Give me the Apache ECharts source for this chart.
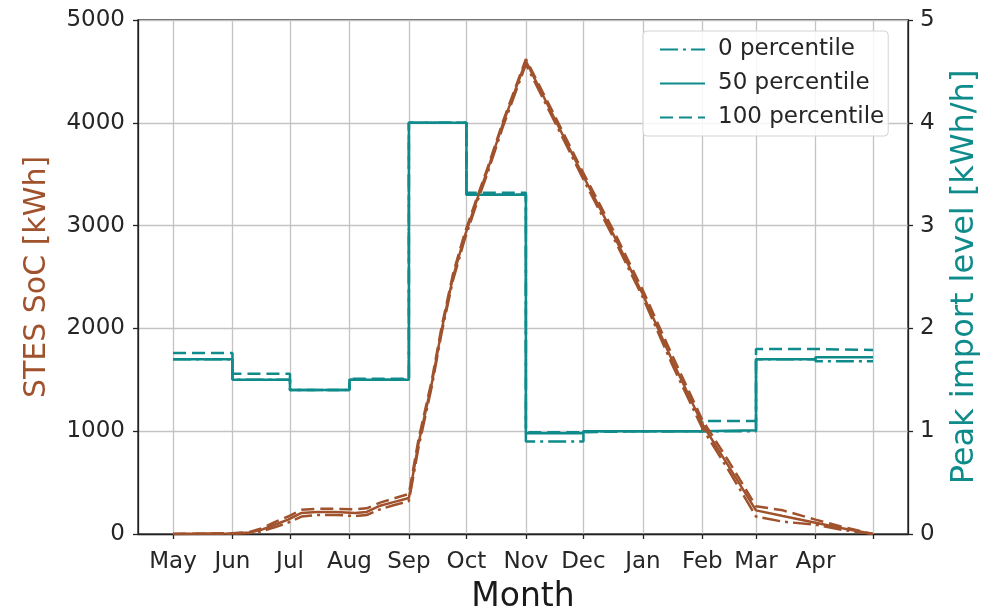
<!DOCTYPE html>
<html>
<head>
<meta charset="utf-8">
<script src="https://cdn.jsdelivr.net/npm/echarts@6/dist/echarts.min.js"></script>
<style>
  html, body { margin: 0; padding: 0; background: #ffffff; }
  #chart { width: 984px; height: 608px; }
</style>
</head>
<body>
<div id="chart"></div>
<script>
// Month axis: day offsets from 1 May
const monthNames = ['May', 'Jun', 'Jul', 'Aug', 'Sep', 'Oct', 'Nov', 'Dec', 'Jan', 'Feb', 'Mar', 'Apr'];
const monthStart = [0, 31, 61, 92, 123, 153, 184, 214, 245, 276, 304, 335];
const yearEnd = 365;

// Monthly peak import level [kWh/h] per percentile
const peak0   = [1.70, 1.50, 1.40, 1.50, 4.00, 3.30, 0.90, 1.00, 1.00, 1.00, 1.70, 1.68];
const peak50  = [1.70, 1.50, 1.40, 1.50, 4.00, 3.30, 0.98, 1.00, 1.00, 1.01, 1.70, 1.72];
const peak100 = [1.76, 1.56, 1.40, 1.51, 4.00, 3.32, 0.99, 1.00, 1.00, 1.10, 1.80, 1.79];

// STES state of charge [kWh] per percentile
const socDays = [0, 31, 40, 46, 53, 60, 67, 75, 85, 95, 101, 108, 115, 123, 128, 135, 140, 146, 152, 159, 164, 172, 184, 199, 214, 230, 245, 260, 276, 290, 304, 318, 335, 349, 365];
const soc0   = [0, 3, 10, 25, 65, 110, 170, 185, 185, 175, 185, 240, 280, 320, 840, 1440, 1950, 2470, 2860, 3250, 3510, 3960, 4570, 4010, 3450, 2870, 2300, 1660, 1030, 610, 170, 120, 90, 40, 0];
const soc50  = [0, 5, 15, 40, 90, 140, 205, 215, 215, 205, 215, 275, 310, 350, 880, 1470, 1980, 2500, 2890, 3280, 3540, 3990, 4600, 4040, 3480, 2900, 2330, 1700, 1070, 650, 230, 175, 110, 55, 0];
const soc100 = [0, 8, 20, 55, 115, 170, 235, 245, 245, 240, 250, 305, 345, 390, 920, 1500, 2010, 2530, 2920, 3300, 3560, 4010, 4620, 4070, 3510, 2940, 2370, 1750, 1110, 700, 270, 230, 140, 70, 0];

const percentileNames = ['0 percentile', '50 percentile', '100 percentile'];

const SIENNA = '#a0522d';
const TEAL = '#0f8b8b';
const FONT = 'DejaVu Sans';

const dashDot = [18, 5, 3, 5];
const dashed = [13, 6];
const styles = [
  { type: dashDot },
  { type: 'solid' },
  { type: dashed }
];

function stepData(values) {
  const pts = monthStart.map((d, i) => [d, values[i]]);
  pts.push([yearEnd, values[values.length - 1]]);
  return pts;
}
function socData(values) {
  return socDays.map((d, i) => [d, values[i]]);
}

const peakSets = [peak0, peak50, peak100];
const socSets = [soc0, soc50, soc100];

const series = [];
peakSets.forEach((vals, i) => {
  series.push({
    name: percentileNames[i],
    type: 'line',
    yAxisIndex: 1,
    step: 'end',
    showSymbol: false,
    symbol: 'none',
    silent: true,
    data: stepData(vals),
    lineStyle: { color: TEAL, width: 2.5, type: styles[i].type },
    itemStyle: { color: TEAL }
  });
});
socSets.forEach((vals, i) => {
  series.push({
    name: 'SoC ' + percentileNames[i],
    type: 'line',
    yAxisIndex: 0,
    showSymbol: false,
    symbol: 'none',
    silent: true,
    data: socData(vals),
    lineStyle: { color: SIENNA, width: 2.5, type: styles[i].type },
    itemStyle: { color: SIENNA }
  });
});

const tickLabel = { fontFamily: FONT, fontSize: 23, color: '#262626' };
const axisLineStyle = { show: true, onZero: false, lineStyle: { color: '#222', width: 1.3 } };
const tickStyle = { show: true, length: 5, inside: false, lineStyle: { color: '#222', width: 1.3 } };
const gridLine = { show: true, lineStyle: { color: '#c4c4c4', width: 1.3 } };

const chart = echarts.init(document.getElementById('chart'), null, { renderer: 'canvas' });
chart.setOption({
  animation: false,
  backgroundColor: '#ffffff',
  grid: {
    left: 138, right: 76, top: 20, bottom: 74,
    outerBoundsMode: 'none',
    containLabel: false,
    show: true, borderColor: '#222', borderWidth: 1.3, backgroundColor: 'transparent'
  },
  legend: {
    data: percentileNames,
    orient: 'vertical',
    left: 643, top: 31,
    padding: [6, 4, 6, 16],
    itemWidth: 45, itemHeight: 12, itemGap: 9,
    itemStyle: { opacity: 0 },
    backgroundColor: 'rgba(255,255,255,0.85)',
    borderColor: '#d4d4d4', borderWidth: 1, borderRadius: 4,
    textStyle: { fontFamily: FONT, fontSize: 23, color: '#262626', lineHeight: 25, padding: [0, 0, 0, 8] },
    selectedMode: false
  },
  xAxis: {
    type: 'value',
    min: -18.25, max: 383.25,
    name: 'Month', nameLocation: 'middle', nameGap: 47,
    nameTextStyle: { fontFamily: FONT, fontSize: 33, color: '#1a1a1a' },
    axisLine: axisLineStyle,
    axisTick: Object.assign({}, tickStyle, { customValues: monthStart.concat([yearEnd]) }),
    axisLabel: Object.assign({}, tickLabel, {
      margin: 17,
      customValues: monthStart,
      formatter: (v) => monthNames[monthStart.indexOf(v)] || ''
    }),
    splitLine: gridLine
  },
  yAxis: [
    {
      type: 'value', position: 'left',
      min: 0, max: 5000, interval: 1000,
      name: 'STES SoC [kWh]', nameLocation: 'middle', nameRotate: 90, nameGap: 86,
      nameTextStyle: { fontFamily: FONT, fontSize: 30, color: SIENNA },
      axisLine: axisLineStyle, axisTick: tickStyle,
      axisLabel: Object.assign({}, tickLabel, { margin: 13, formatter: (v) => String(v) }),
      splitLine: gridLine
    },
    {
      type: 'value', position: 'right',
      min: 0, max: 5, interval: 1,
      name: 'Peak import level [kWh/h]', nameLocation: 'middle', nameRotate: 90, nameGap: 41,
      nameTextStyle: { fontFamily: FONT, fontSize: 32, color: TEAL },
      axisLine: axisLineStyle, axisTick: tickStyle,
      axisLabel: Object.assign({}, tickLabel, { margin: 12, formatter: (v) => String(v) }),
      splitLine: { show: false }
    }
  ],
  series: series
});
</script>
</body>
</html>
